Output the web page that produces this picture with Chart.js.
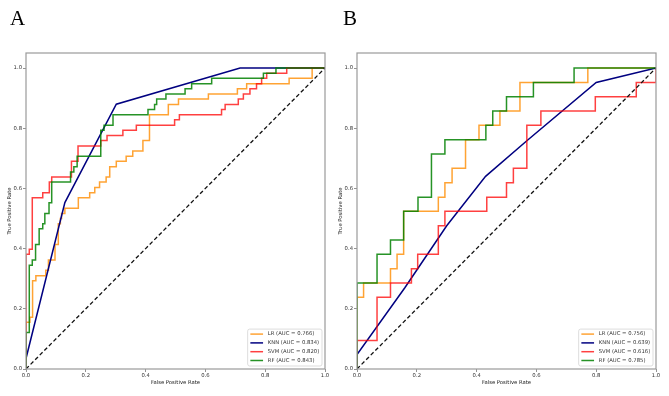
<!DOCTYPE html>
<html>
<head>
<meta charset="utf-8">
<script src="https://cdn.jsdelivr.net/npm/chart.js@4.4.1/dist/chart.umd.min.js"></script>
<style>
  body { margin: 0; background: #fff; }
  #wrap { position: relative; width: 669px; height: 396px; overflow: hidden; }
  canvas { position: absolute; top: 0; }
  .tag { position: absolute; top: 8px; font: 21px 'Liberation Serif', serif; line-height: 21px; color: #000; }
</style>
</head>
<body>
<div id="wrap">
  <canvas id="chartA" width="334" height="396" style="left:0"></canvas>
  <canvas id="chartB" width="338" height="396" style="left:331px"></canvas>
  <div class="tag" style="left:10px">A</div>
  <div class="tag" style="left:343px">B</div>
</div>
<script>
var modelNames = ["LR", "KNN", "SVM", "RF"];
var aucA = ["0.766", "0.834", "0.820", "0.843"];
var aucB = ["0.756", "0.639", "0.616", "0.785"];
var tickValues = [0, 0.2, 0.4, 0.6, 0.8, 1.0];
var diagonal = [[0, 0], [1, 1]];

// panel A, [fpr, tpr] corners
var lrA = [[0,0],[0,0.155],[0.013,0.155],[0.013,0.172],[0.022,0.172],[0.022,0.293],[0.033,0.293],[0.033,0.31],
  [0.066,0.31],[0.066,0.328],[0.075,0.328],[0.075,0.362],[0.097,0.362],[0.097,0.414],[0.108,0.414],[0.108,0.483],
  [0.115,0.483],[0.115,0.5],[0.119,0.5],[0.119,0.517],[0.13,0.517],[0.13,0.534],[0.175,0.534],[0.175,0.569],
  [0.213,0.569],[0.213,0.586],[0.23,0.586],[0.23,0.603],[0.246,0.603],[0.246,0.621],[0.268,0.621],[0.268,0.638],
  [0.28,0.638],[0.28,0.672],[0.302,0.672],[0.302,0.69],[0.335,0.69],[0.335,0.707],[0.357,0.707],[0.357,0.724],
  [0.391,0.724],[0.391,0.759],[0.413,0.759],[0.413,0.845],[0.476,0.845],[0.476,0.879],[0.51,0.879],[0.51,0.897],
  [0.61,0.897],[0.61,0.914],[0.707,0.914],[0.707,0.931],[0.738,0.931],[0.738,0.948],[0.88,0.948],[0.88,0.966],
  [0.957,0.966],[0.957,1],[1,1]];
var knnA = [[0,0],[0,0.035],[0.13,0.553],[0.302,0.88],[0.716,1],[1,1]];
var svmA = [[0,0],[0,0.381],[0.011,0.381],[0.011,0.398],[0.021,0.398],[0.021,0.569],[0.056,0.569],[0.056,0.586],
  [0.078,0.586],[0.078,0.621],[0.086,0.621],[0.086,0.638],[0.152,0.638],[0.152,0.69],[0.174,0.69],[0.174,0.741],
  [0.25,0.741],[0.25,0.759],[0.271,0.759],[0.271,0.776],[0.324,0.776],[0.324,0.793],[0.369,0.793],[0.369,0.81],
  [0.497,0.81],[0.497,0.828],[0.513,0.828],[0.513,0.845],[0.654,0.845],[0.654,0.862],[0.666,0.862],[0.666,0.879],
  [0.71,0.879],[0.71,0.897],[0.727,0.897],[0.727,0.914],[0.749,0.914],[0.749,0.931],[0.771,0.931],[0.771,0.948],
  [0.788,0.948],[0.788,0.966],[0.805,0.966],[0.805,0.983],[0.872,0.983],[0.872,1],[1,1]];
var rfA = [[0,0],[0,0.121],[0.011,0.121],[0.011,0.345],[0.021,0.345],[0.021,0.362],[0.032,0.362],[0.032,0.414],
  [0.044,0.414],[0.044,0.466],[0.056,0.466],[0.056,0.483],[0.063,0.483],[0.063,0.517],[0.077,0.517],[0.077,0.552],
  [0.086,0.552],[0.086,0.621],[0.149,0.621],[0.149,0.655],[0.16,0.655],[0.16,0.672],[0.171,0.672],[0.171,0.707],
  [0.25,0.707],[0.25,0.793],[0.261,0.793],[0.261,0.81],[0.291,0.81],[0.291,0.845],[0.408,0.845],[0.408,0.862],
  [0.43,0.862],[0.43,0.879],[0.437,0.879],[0.437,0.897],[0.468,0.897],[0.468,0.914],[0.532,0.914],[0.532,0.931],
  [0.554,0.931],[0.554,0.948],[0.621,0.948],[0.621,0.966],[0.794,0.966],[0.794,0.983],[0.836,0.983],[0.836,1],[1,1]];

// panel B
var lrB = [[0,0],[0,0.238],[0.022,0.238],[0.022,0.286],[0.112,0.286],[0.112,0.333],[0.134,0.333],[0.134,0.381],
  [0.156,0.381],[0.156,0.524],[0.272,0.524],[0.272,0.571],[0.294,0.571],[0.294,0.619],[0.318,0.619],[0.318,0.667],
  [0.363,0.667],[0.363,0.762],[0.408,0.762],[0.408,0.81],[0.478,0.81],[0.478,0.857],[0.545,0.857],[0.545,0.952],
  [0.772,0.952],[0.772,1],[1,1]];
var knnB = [[0,0],[0,0.048],[0.16,0.27],[0.3,0.476],[0.43,0.64],[0.57,0.76],[0.8,0.952],[1,1]];
var svmB = [[0,0],[0,0.095],[0.067,0.095],[0.067,0.238],[0.112,0.238],[0.112,0.286],[0.182,0.286],[0.182,0.333],
  [0.203,0.333],[0.203,0.381],[0.272,0.381],[0.272,0.476],[0.294,0.476],[0.294,0.524],[0.434,0.524],[0.434,0.571],
  [0.5,0.571],[0.5,0.619],[0.523,0.619],[0.523,0.667],[0.568,0.667],[0.568,0.81],[0.615,0.81],[0.615,0.857],
  [0.797,0.857],[0.797,0.905],[0.934,0.905],[0.934,0.952],[1,0.952],[1,1]];
var rfB = [[0,0],[0,0.286],[0.067,0.286],[0.067,0.381],[0.112,0.381],[0.112,0.429],[0.156,0.429],[0.156,0.524],
  [0.204,0.524],[0.204,0.571],[0.249,0.571],[0.249,0.714],[0.294,0.714],[0.294,0.762],[0.431,0.762],[0.431,0.81],
  [0.454,0.81],[0.454,0.857],[0.5,0.857],[0.5,0.905],[0.59,0.905],[0.59,0.952],[0.726,0.952],[0.726,1],[1,1]];

var lineColors = ["rgba(255,140,0,0.8)", "#000080", "rgba(255,0,0,0.75)", "rgba(0,128,0,0.85)"];
var smallFont = { family: "'DejaVu Sans'", size: 5.3 };

// matplotlib style box round the plot area
var framePlugin = {
  id: "frame",
  afterDatasetsDraw: function (chart) {
    var a = chart.chartArea, ctx = chart.ctx;
    ctx.save();
    ctx.strokeStyle = "#9a9a9a";
    ctx.lineWidth = 1.2;
    ctx.strokeRect(a.left, a.top, a.right - a.left, a.bottom - a.top);
    ctx.restore();
  }
};

// legend drawn inside the lower right corner
var legendPlugin = {
  id: "legendBox",
  afterDatasetsDraw: function (chart) {
    var ctx = chart.ctx, a = chart.chartArea;
    var sets = chart.data.datasets.filter(function (d) { return !d.hideInLegend; });
    ctx.save();
    ctx.font = "5.3px 'DejaVu Sans'";
    var textW = Math.max.apply(null, sets.map(function (d) { return ctx.measureText(d.label).width; }));
    var rowH = 8.8;
    var w = 2.7 + 12.7 + 4.7 + textW + 2.7;
    var h = 10.5 + (sets.length - 1) * rowH;
    var x0 = a.right - 3 - w, y0 = a.bottom - 3 - h;
    ctx.fillStyle = "rgba(255,255,255,0.85)";
    ctx.strokeStyle = "#d4d4d4";
    ctx.lineWidth = 0.8;
    ctx.beginPath();
    ctx.roundRect(x0, y0, w, h, 2);
    ctx.fill();
    ctx.stroke();
    sets.forEach(function (d, i) {
      var cy = y0 + 5 + i * rowH;
      ctx.strokeStyle = d.borderColor;
      ctx.lineWidth = 1.5;
      ctx.beginPath();
      ctx.moveTo(x0 + 2.7, cy);
      ctx.lineTo(x0 + 15.4, cy);
      ctx.stroke();
      ctx.fillStyle = "#333";
      ctx.textBaseline = "middle";
      ctx.fillText(d.label, x0 + 20.1, cy);
    });
    ctx.restore();
  }
};

function axisOptions(titleText, isX) {
  return {
    type: "linear",
    min: 0,
    max: isX ? 1 : 1.05,
    afterBuildTicks: function (s) { s.ticks = tickValues.map(function (v) { return { value: v }; }); },
    afterFit: function (s) { if (isX) { s.height = 17; } else { s.width = 24; } },
    ticks: {
      font: smallFont, color: "#333", padding: isX ? 0 : 1,
      callback: function (v) { return v.toFixed(1); }
    },
    grid: { display: true, drawOnChartArea: false, drawTicks: true, tickLength: 3, color: "#777", lineWidth: 0.8 },
    border: { display: false },
    title: {
      display: true, text: titleText, font: smallFont, color: "#222",
      padding: isX ? { top: 0, bottom: 0 } : { top: 4, bottom: 0 }
    }
  };
}

function makeChart(id, curves, aucs, rightPad) {
  var datasets = curves.map(function (pts, i) {
    return {
      label: modelNames[i] + " (AUC = " + aucs[i] + ")",
      data: pts.map(function (p) { return { x: p[0], y: p[1] }; }),
      borderColor: lineColors[i],
      borderWidth: 1.5,
      pointRadius: 0,
      showLine: true,
      fill: false,
      tension: 0,
      order: 4 - i
    };
  });
  datasets.push({
    label: "chance",
    hideInLegend: true,
    data: diagonal.map(function (p) { return { x: p[0], y: p[1] }; }),
    borderColor: "#111",
    borderDash: [4, 2.5],
    borderWidth: 1.3,
    pointRadius: 0,
    showLine: true,
    order: 0
  });
  return new Chart(document.getElementById(id), {
    type: "scatter",
    data: { datasets: datasets },
    options: {
      responsive: false,
      animation: false,
      devicePixelRatio: 1,
      layout: { padding: { left: 2, top: 53, right: rightPad, bottom: 10 } },
      plugins: { legend: { display: false }, tooltip: { enabled: false } },
      scales: {
        x: axisOptions("False Positive Rate", true),
        y: axisOptions("True Positive Rate", false)
      }
    },
    plugins: [framePlugin, legendPlugin]
  });
}

makeChart("chartA", [lrA, knnA, svmA, rfA], aucA, 9);
makeChart("chartB", [lrB, knnB, svmB, rfB], aucB, 13);
</script>
</body>
</html>
